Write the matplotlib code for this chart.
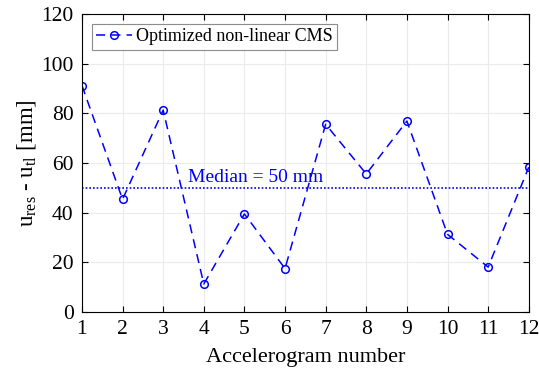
import matplotlib
matplotlib.use("Agg")
import matplotlib.pyplot as plt

plt.rcParams['font.family'] = ['Liberation Serif', 'DejaVu Serif']
plt.rcParams['mathtext.fontset'] = 'custom'
plt.rcParams['mathtext.rm'] = 'Liberation Serif'
plt.rcParams['mathtext.it'] = 'Liberation Serif:italic'

accelerograms = list(range(1, 13))
residual_diff = [91.2, 45.4, 81.3, 11.3, 39.5, 17.5, 75.6, 55.6, 76.9, 31.3, 18.1, 58.3]
median_value = 50
x_ticks = list(range(1, 13))
y_ticks = [0, 20, 40, 60, 80, 100, 120]

fig = plt.figure(figsize=(5.39, 3.68), dpi=100)
ax = fig.add_axes([0.152, 0.152, 0.829, 0.810])

ax.plot(accelerograms, residual_diff, color='blue', linestyle=(0, (6, 4)),
        linewidth=1.1, marker='o', markersize=5.5, markerfacecolor='none',
        markeredgewidth=1.1, label='Optimized non-linear CMS')
ax.axhline(median_value, color='blue', linestyle=(0, (1, 1.2)), linewidth=1.2)
ax.text(3.6, median_value + 0.6, f'Median = {median_value} mm', color='blue',
        fontsize=14, ha='left', va='bottom')

ax.set_xlim(1, 12)
ax.set_ylim(0, 120)
ax.set_xticks(x_ticks)
ax.set_yticks(y_ticks)
ax.tick_params(direction='in', top=True, right=True, labelsize=15.5, length=4,
               width=0.8, pad=6)
ax.grid(True, color='#ebebeb', linewidth=0.8)
ax.set_axisbelow(True)
for s in ax.spines.values():
    s.set_linewidth(0.8)

ax.set_xlabel('Accelerogram number', fontsize=16, labelpad=6)
ax.set_ylabel(r'u$_{\rm res}$ - u$_{\rm tl}$ [mm]', fontsize=16.5, labelpad=2)

leg = ax.legend(loc='upper left', fontsize=13, fancybox=False, framealpha=1,
                edgecolor='#8c8c8c', handlelength=2.0, handletextpad=0.2,
                borderpad=0.25, borderaxespad=0.55)
leg.get_frame().set_linewidth(0.8)

fig.savefig('out.png', dpi=100)
